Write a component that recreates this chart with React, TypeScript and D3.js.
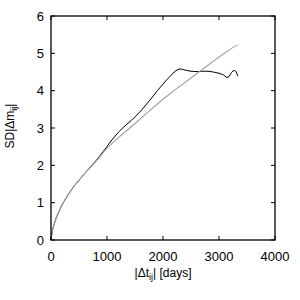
import React from "react";
import * as d3 from "d3";

// fitted model curve (gray)
const modelT = [0, 20, 50, 100, 200, 300, 400, 600, 800, 1000, 1250, 1500, 1750, 2000, 2250, 2500, 2750, 3000, 3250, 3330];
const modelSD = [0, 0.22, 0.4, 0.62, 0.95, 1.2, 1.42, 1.78, 2.1, 2.46, 2.8, 3.12, 3.45, 3.77, 4.06, 4.34, 4.62, 4.9, 5.16, 5.22];

// observed structure function (black)
const obsT = [0, 20, 50, 100, 200, 300, 400, 600, 800, 1000, 1054, 1200, 1300, 1440, 1600, 1768, 1900, 2066, 2200, 2268, 2304, 2350, 2429, 2500, 2607, 2700, 2804, 2900, 3018, 3080, 3143, 3180, 3220, 3250, 3280, 3304, 3320, 3339];
const obsSD = [0, 0.22, 0.4, 0.62, 0.95, 1.2, 1.42, 1.78, 2.12, 2.5, 2.62, 2.88, 3.03, 3.21, 3.45, 3.75, 4.0, 4.29, 4.5, 4.57, 4.58, 4.57, 4.54, 4.52, 4.51, 4.52, 4.52, 4.5, 4.46, 4.42, 4.35, 4.38, 4.48, 4.53, 4.54, 4.51, 4.45, 4.39];

const xTicks = [0, 1000, 2000, 3000, 4000];
const yTicks = [0, 1, 2, 3, 4, 5, 6];

const App = () => {
  const width = 300;
  const height = 300;
  const m = { left: 51, right: 25, top: 16, bottom: 60 };

  const x = d3.scaleLinear().domain([0, 4000]).range([m.left, width - m.right]);
  const y = d3.scaleLinear().domain([0, 6]).range([height - m.bottom, m.top]);

  const path = (ts: number[], vs: number[]) =>
    d3
      .line<number>()
      .x((d) => x(d))
      .y((_, i) => y(vs[i]))(ts) ?? "";

  const font = "Liberation Sans, Arial, sans-serif";
  const tk = 4;
  const x0 = x(0), x1 = x(4000), y0 = y(0), y1 = y(6);

  return (
    <svg width={width} height={height} style={{ position: "absolute", left: 0, top: 0 }}>
      <rect width={width} height={height} fill="#fff" />
      <path d={path(obsT, obsSD)} fill="none" stroke="#000" strokeWidth={1} />
      <path d={path(modelT, modelSD)} fill="none" stroke="#a0a0a0" strokeWidth={1.1} />
      {xTicks.map((t) => (
        <g key={"x" + t}>
          <line x1={x(t)} x2={x(t)} y1={y0} y2={y0 - tk} stroke="#000" strokeWidth={1} />
          <line x1={x(t)} x2={x(t)} y1={y1} y2={y1 + tk} stroke="#000" strokeWidth={1} />
          <text x={x(t)} y={y0 + 21} textAnchor="middle" fontFamily={font} fontSize={13}>
            {t}
          </text>
        </g>
      ))}
      {yTicks.map((t) => (
        <g key={"y" + t}>
          <line x1={x0} x2={x0 + tk} y1={y(t)} y2={y(t)} stroke="#000" strokeWidth={1} />
          <line x1={x1} x2={x1 - tk} y1={y(t)} y2={y(t)} stroke="#000" strokeWidth={1} />
          <text x={x0 - 7} y={y(t) + 4.5} textAnchor="end" fontFamily={font} fontSize={13}>
            {t}
          </text>
        </g>
      ))}
      <rect x={x0} y={y1} width={x1 - x0} height={y0 - y1} fill="none" stroke="#000" strokeWidth={1.3} />
      <text x={163} y={277} textAnchor="middle" fontFamily={font} fontSize={12}>
        |Δt<tspan fontSize={9} dy={3}>ij</tspan>
        <tspan dy={-3}>| [days]</tspan>
      </text>
      <text transform="translate(14,126) rotate(-90)" textAnchor="middle" fontFamily={font} fontSize={12}>
        SD|Δm<tspan fontSize={9} dy={3}>ij</tspan>
        <tspan dy={-3}>|</tspan>
      </text>
    </svg>
  );
};

export default App;
